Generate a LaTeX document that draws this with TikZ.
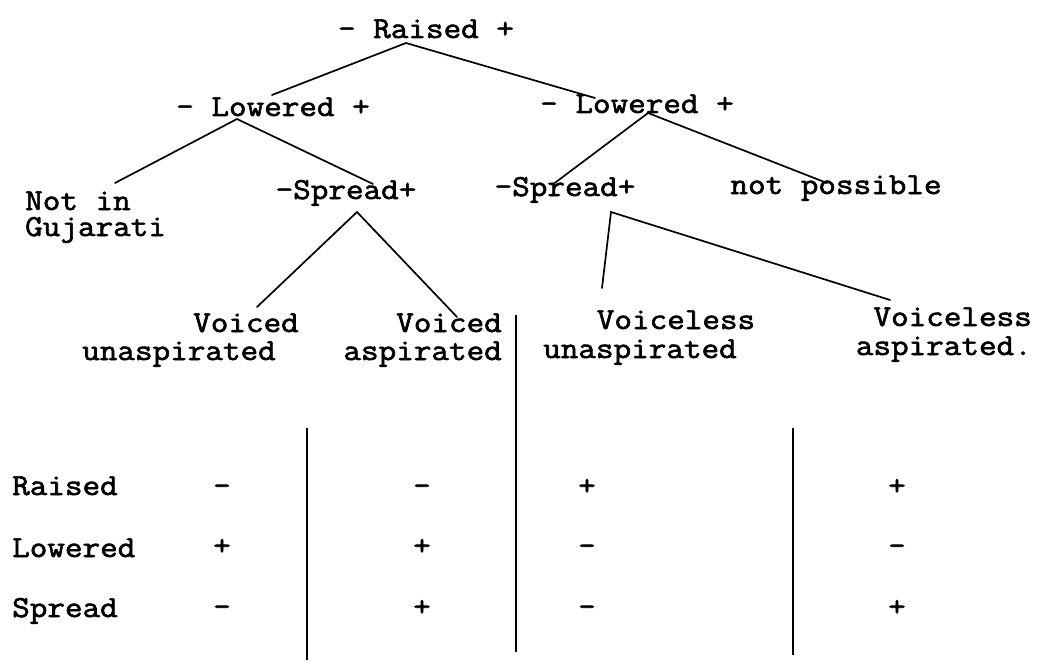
\documentclass[tikz,border=0pt]{standalone}
\usepackage{fontspec}
\newfontfamily\tw{Latin Modern Mono}[FakeStretch=1.12,FakeBold=2]
\begin{document}
\begin{tikzpicture}[x=1pt,y=-1pt,
  txt/.style={inner sep=0pt,anchor=base,font=\tw\fontsize{30.5}{25}\selectfont},
  sgn/.style={inner sep=0pt,anchor=center,font=\tw\fontsize{30}{25}\selectfont},
  br/.style={line width=1.7pt,line cap=round},
  rule/.style={line width=1.5pt}]
\useasboundingbox (0,0) rectangle (1044,666);
% tree labels
\node[txt] (raised) at (426,38) {- Raised +};
\node[txt] (lowL) at (273,116) {- Lowered +};
\node[txt] (lowR) at (637,113) {- Lowered +};
\node[txt,anchor=base west] (notin) at (25,210) {Not in};
\node[txt,anchor=base west] (guj) at (25,236) {Gujarati};
\node[txt] (sprL) at (346,199) {-Spread+};
\node[txt] (sprR) at (565,196) {-Spread+};
\node[txt] (notpos) at (836,194) {not possible};
\node[txt] (vu1) at (246,332) {Voiced};
\node[txt] (vu2) at (179,360) {unaspirated};
\node[txt,anchor=base east] (va1) at (502,332) {Voiced};
\node[txt,anchor=base east] (va2) at (502,360) {aspirated};
\node[txt] (xu1) at (676,329) {Voiceless};
\node[txt] (xu2) at (640,358) {unaspirated};
\node[txt,anchor=base east] (xa1) at (1032,326) {Voiceless};
\node[txt,anchor=base east] (xa2) at (1032,355) {aspirated.};
% branch points
\coordinate (rA) at (406,43);
\coordinate (lLt) at (272,95);
\coordinate (lRt) at (595,98);
\coordinate (lLa) at (237,119);
\coordinate (lRa) at (648,113);
\coordinate (niT) at (115,183);
\coordinate (sLt) at (373,184);
\coordinate (sRt) at (552,185);
\coordinate (npT) at (827,183);
\coordinate (sLa) at (357,212);
\coordinate (sRa) at (611,212);
\coordinate (vuT) at (257,307);
\coordinate (vaT) at (457,317);
\coordinate (xuT) at (602,288);
\coordinate (xaT) at (890,300);
\draw[br] (lLt) -- (rA) -- (lRt);
\draw[br] (niT) -- (lLa) -- (sLt);
\draw[br] (sRt) -- (lRa) -- (npT);
\draw[br] (vuT) -- (sLa) -- (vaT);
\draw[br] (xuT) -- (sRa) -- (xaT);
% table
\node[txt,anchor=base west] (rR) at (12,495) {Raised};
\node[txt,anchor=base west] (rL) at (12,557) {Lowered};
\node[txt,anchor=base west] (rS) at (12,617) {Spread};
\node[sgn] (a1) at (222,487) {\vphantom{+}-};
\node[sgn] (a2) at (222,547) {+};
\node[sgn] (a3) at (222,608) {\vphantom{+}-};
\node[sgn] (b1) at (422,487) {\vphantom{+}-};
\node[sgn] (b2) at (422,547) {+};
\node[sgn] (b3) at (422,608) {+};
\node[sgn] (c1) at (587,487) {+};
\node[sgn] (c2) at (587,547) {\vphantom{+}-};
\node[sgn] (c3) at (587,608) {\vphantom{+}-};
\node[sgn] (d1) at (897,487) {+};
\node[sgn] (d2) at (897,547) {\vphantom{+}-};
\node[sgn] (d3) at (897,608) {+};
\coordinate (v1t) at (307,428); \coordinate (v1b) at (307,660);
\coordinate (v2t) at (516,315); \coordinate (v2b) at (516,652);
\coordinate (v3t) at (793,428); \coordinate (v3b) at (793,655);
\draw[rule] (v1t) -- (v1b);
\draw[rule] (v2t) -- (v2b);
\draw[rule] (v3t) -- (v3b);
\end{tikzpicture}
\end{document}
